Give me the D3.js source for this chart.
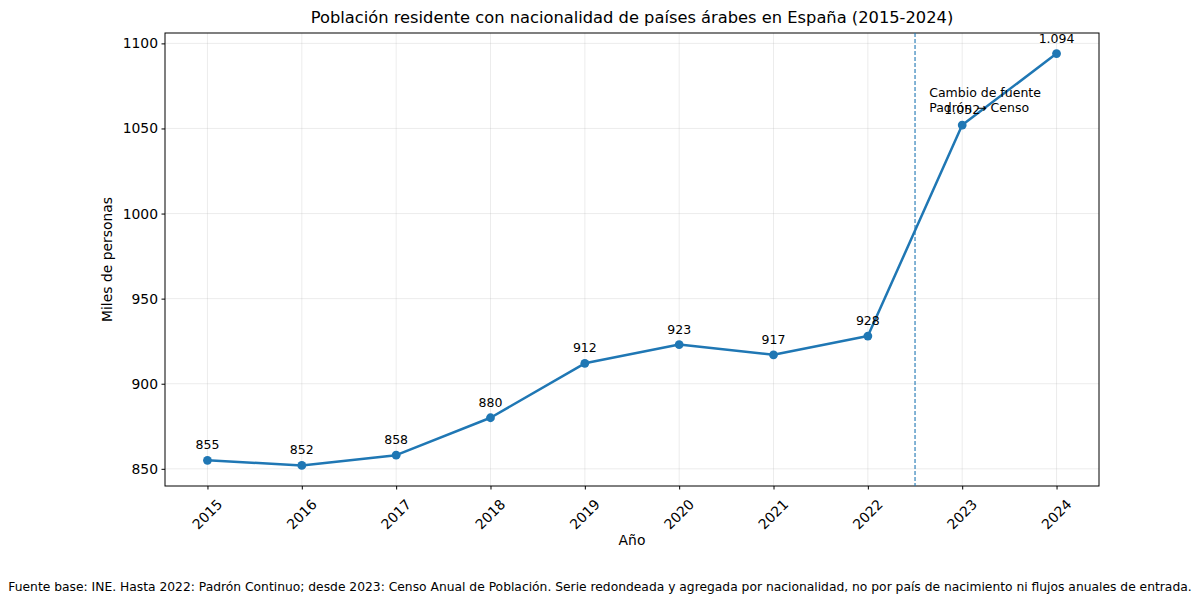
<!DOCTYPE html>
<html>
<head>
<meta charset="utf-8">
<script src="https://cdn.jsdelivr.net/npm/d3@7"></script>
<style>
body { margin: 0; background: #fff; }
svg { font-family: "DejaVu Sans", sans-serif; }
</style>
</head>
<body>
<svg id="chart" width="1200" height="604"></svg>
<script>
// datos (miles de personas)
var years = [2015, 2016, 2017, 2018, 2019, 2020, 2021, 2022, 2023, 2024];
var values = [855, 852, 858, 880, 912, 923, 917, 928, 1052, 1094];
var yTicks = [850, 900, 950, 1000, 1050, 1100];
var breakYear = 2022.5;
var noteLines = ["Cambio de fuente", "Padrón → Censo"];

var svg = d3.select("#chart");
var pLeft = 165, pRight = 1099, pTop = 33, pBottom = 486;
var blue = "#1f77b4";

var x = d3.scaleLinear().domain([2014.55, 2024.45]).range([pLeft, pRight]);
var y = d3.scaleLinear().domain([839.9, 1106.1]).range([pBottom, pTop]);

// grid
svg.append("g").selectAll("line").data(years).enter().append("line")
	.attr("x1", function(d){ return x(d); }).attr("x2", function(d){ return x(d); })
	.attr("y1", pTop).attr("y2", pBottom)
	.attr("stroke", "#b0b0b0").attr("stroke-opacity", 0.3).attr("stroke-width", 0.8);
svg.append("g").selectAll("line").data(yTicks).enter().append("line")
	.attr("x1", pLeft).attr("x2", pRight)
	.attr("y1", function(d){ return y(d); }).attr("y2", function(d){ return y(d); })
	.attr("stroke", "#b0b0b0").attr("stroke-opacity", 0.3).attr("stroke-width", 0.8);

// ejes
var xAxis = svg.append("g")
	.attr("transform", "translate(0," + pBottom + ")")
	.call(d3.axisBottom(x).tickValues(years).tickFormat(d3.format("d")).tickSize(3.5).tickPadding(3));
xAxis.select(".domain").remove();
xAxis.selectAll("text")
	.style("font-size", "13.9px").style("font-family", "DejaVu Sans").attr("fill", "#000")
	.attr("y", 0).attr("dy", 0)
	.attr("text-anchor", "middle")
	.attr("dominant-baseline", "middle")
	.attr("transform", "translate(0,29) rotate(-45)");

var yAxis = svg.append("g")
	.attr("transform", "translate(" + pLeft + ",0)")
	.call(d3.axisLeft(y).tickValues(yTicks).tickFormat(d3.format("d")).tickSize(3.5).tickPadding(3.5));
yAxis.select(".domain").remove();
yAxis.selectAll("text").style("font-size", "13.9px").style("font-family", "DejaVu Sans").attr("fill", "#000");

svg.append("rect").attr("x", pLeft).attr("y", pTop)
	.attr("width", pRight - pLeft).attr("height", pBottom - pTop)
	.attr("fill", "none").attr("stroke", "#000").attr("stroke-width", 1);

// linea de cambio de fuente
svg.append("line")
	.attr("x1", x(breakYear)).attr("x2", x(breakYear))
	.attr("y1", pTop).attr("y2", pBottom)
	.attr("stroke", blue).attr("stroke-width", 1.1).attr("stroke-dasharray", "4,2");

// serie
var pts = years.map(function(yr, i){ return {year: yr, value: values[i]}; });
svg.append("path").datum(pts)
	.attr("fill", "none").attr("stroke", blue).attr("stroke-width", 2.5)
	.attr("stroke-linejoin", "round")
	.attr("d", d3.line().x(function(d){ return x(d.year); }).y(function(d){ return y(d.value); }));

svg.append("g").selectAll("circle").data(pts).enter().append("circle")
	.attr("cx", function(d){ return x(d.year); })
	.attr("cy", function(d){ return y(d.value); })
	.attr("r", 4.4).attr("fill", blue);

var fmt = function(v){ return v >= 1000 ? d3.format(",")(v).replace(",", ".") : String(v); };
svg.append("g").selectAll("text").data(pts).enter().append("text")
	.attr("x", function(d){ return x(d.year); })
	.attr("y", function(d){ return y(d.value) - 11; })
	.attr("text-anchor", "middle")
	.style("font-size", "12.5px")
	.text(function(d){ return fmt(d.value); });

// nota
var note = svg.append("text")
	.attr("x", x(2022.65)).attr("y", y(1059) - 16)
	.style("font-size", "12.5px");
note.selectAll("tspan").data(noteLines).enter().append("tspan")
	.attr("x", x(2022.65)).attr("dy", function(d, i){ return i == 0 ? 0 : 15; })
	.text(function(d){ return d; });

// textos
svg.append("text").attr("x", (pLeft + pRight) / 2).attr("y", 23)
	.attr("text-anchor", "middle").style("font-size", "16.3px")
	.text("Población residente con nacionalidad de países árabes en España (2015-2024)");
svg.append("text").attr("x", (pLeft + pRight) / 2).attr("y", 545)
	.attr("text-anchor", "middle").style("font-size", "13.9px").text("Año");
svg.append("text").attr("transform", "translate(112," + (pTop + pBottom) / 2 + ") rotate(-90)")
	.attr("text-anchor", "middle").style("font-size", "13.9px").text("Miles de personas");
svg.append("text").attr("x", 600).attr("y", 591)
	.attr("text-anchor", "middle").style("font-size", "12.3px")
	.text("Fuente base: INE. Hasta 2022: Padrón Continuo; desde 2023: Censo Anual de Población. Serie redondeada y agregada por nacionalidad, no por país de nacimiento ni flujos anuales de entrada.");
</script>
</body>
</html>
